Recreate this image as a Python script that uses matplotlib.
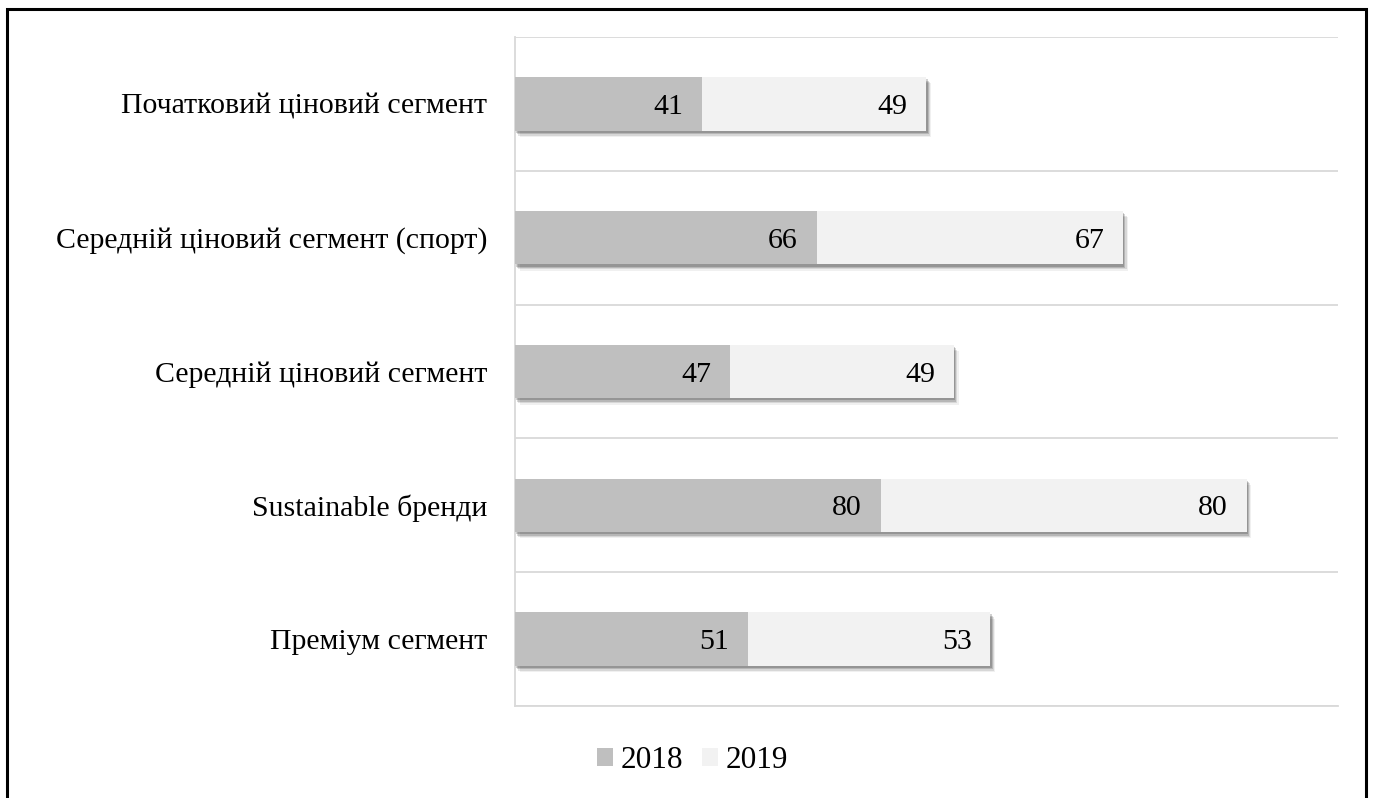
import matplotlib
matplotlib.use("Agg")
import matplotlib.pyplot as plt
import matplotlib.patheffects as pe
from matplotlib.patches import Rectangle
import numpy as np

# segment names, listed top to bottom
categories = [
    "Початковий ціновий сегмент",
    "Середній ціновий сегмент (спорт)",
    "Середній ціновий сегмент",
    "Sustainable бренди",
    "Преміум сегмент",
]
values_2018 = [41, 66, 47, 80, 51]
values_2019 = [49, 67, 49, 80, 53]
series_names = ["2018", "2019"]
colors = ["#BFBFBF", "#F2F2F2"]

plt.rcParams["font.family"] = ["Liberation Serif", "DejaVu Serif"]
FS = 21.5

fig = plt.figure(figsize=(13.75, 7.98), dpi=100)
ax = fig.add_axes([0.3745, 0.1153, 0.5986, 0.8383])

y = np.arange(len(categories))
v18 = np.array(values_2018)
v19 = np.array(values_2019)

h = 0.4
b1 = ax.barh(y, v18, height=h, color=colors[0], label=series_names[0], zorder=3)
b2 = ax.barh(y, v19, left=v18, height=h, color=colors[1], label=series_names[1], zorder=3)

# soft shadow under each stacked bar
for i in range(len(categories)):
    r = Rectangle((0, y[i] - h / 2), v18[i] + v19[i], h, facecolor="white",
                  edgecolor="none", zorder=2)
    r.set_path_effects([
        pe.SimplePatchShadow(offset=(3.5, -4.5), shadow_rgbFace="#000000", alpha=0.06),
        pe.SimplePatchShadow(offset=(2.5, -3.5), shadow_rgbFace="#000000", alpha=0.10),
        pe.SimplePatchShadow(offset=(1.5, -2.5), shadow_rgbFace="#000000", alpha=0.15),
        pe.SimplePatchShadow(offset=(0.8, -1.5), shadow_rgbFace="#000000", alpha=0.18),
    ])
    ax.add_patch(r)

# value labels at the right end of each segment
for i in range(len(categories)):
    ax.annotate(str(v18[i]), (v18[i], y[i]), xytext=(-13.5, 0), textcoords="offset points",
                ha="right", va="center_baseline", fontsize=FS, zorder=4)
    ax.annotate(str(v19[i]), (v18[i] + v19[i], y[i]), xytext=(-13.5, 0),
                textcoords="offset points", ha="right", va="center_baseline",
                fontsize=FS, zorder=4)

ax.set_xlim(0, 180)
ax.set_ylim(len(categories) - 0.5, -0.5)
ax.set_yticks(y)
ax.set_yticklabels(categories, fontsize=FS, va="center_baseline")
ax.tick_params(axis="y", length=0, pad=20)
ax.set_xticks([])

# separator lines between categories
ax.set_yticks(np.arange(-0.5, len(categories), 1.0), minor=True)
ax.tick_params(axis="y", which="minor", length=0)
ax.grid(axis="y", which="minor", color="#D9D9D9", linewidth=1.3, zorder=0)

for s in ["top", "right"]:
    ax.spines[s].set_visible(False)
for s in ["left", "bottom"]:
    ax.spines[s].set_color("#D9D9D9")
    ax.spines[s].set_linewidth(1.3)

fig.legend(handles=[b1, b2], labels=series_names, loc="center",
           bbox_to_anchor=(0.5036, 0.047), ncol=2, frameon=False, fontsize=22.5,
           handlelength=0.5, handleheight=0.5, handletextpad=0.25, columnspacing=0.6)

# outer frame
fig.patches.append(Rectangle((0.0052, -0.02), 0.9885, 1.0087, transform=fig.transFigure,
                             fill=False, edgecolor="black", linewidth=2.2))

fig.savefig("out.png", dpi=100)
